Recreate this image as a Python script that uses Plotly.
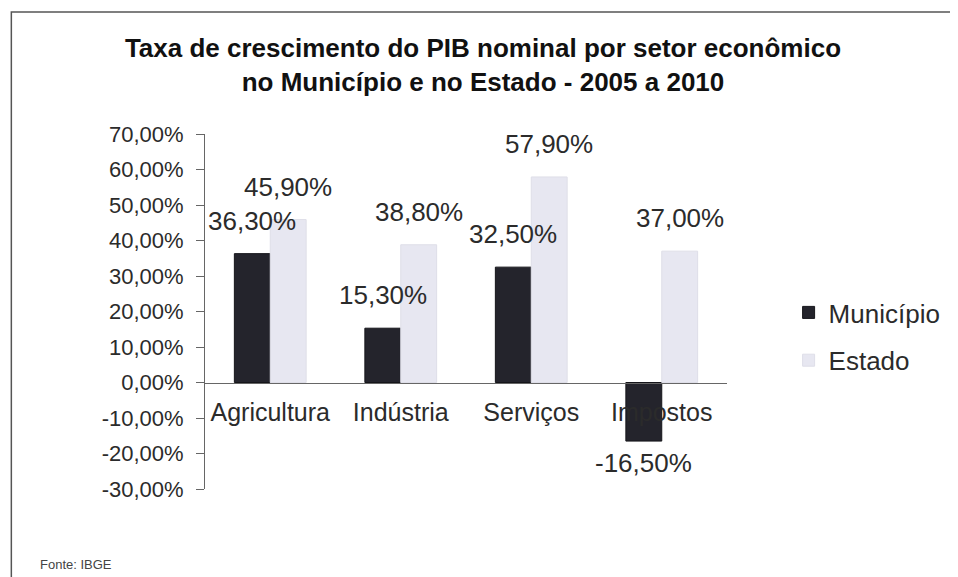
import plotly.graph_objects as go

setores = ['Agricultura', 'Indústria', 'Serviços', 'Impostos']
municipio = [36.30, 15.30, 32.50, -16.50]
estado = [45.90, 38.80, 57.90, 37.00]
y_ticks = [70, 60, 50, 40, 30, 20, 10, 0, -10, -20, -30]

y_range = [-30, 70]
font_family = 'Liberation Sans, Arial, sans-serif'
text_color = '#2b2b2b'


def pct(v):
    return '{:.2f}%'.format(v).replace('.', ',')


mun_bar = go.Bar(
    x=setores, y=municipio, name='Município',
    marker={'color': '#24242c', 'line': {'color': '#15151a', 'width': 1}},
    legendgroup='m'
)
est_bar = go.Bar(
    x=setores, y=estado, name='Estado',
    marker={'color': '#e7e7f1', 'line': {'color': '#dedee8', 'width': 1}},
    legendgroup='e'
)

# data labels sit a bit above (or below) each bar
labels = []
for serie, shift in ((municipio, -18), (estado, 18)):
    for cat, v in zip(setores, serie):
        labels.append({'x': cat, 'y': v, 'text': pct(v), 'showarrow': False,
                       'xshift': shift, 'yshift': 33 if v >= 0 else -22,
                       'xanchor': 'center', 'yanchor': 'middle',
                       'font': {'size': 26, 'color': text_color}})

labels.append({'text': 'Fonte: IBGE', 'xref': 'paper', 'yref': 'paper',
               'x': -0.32, 'y': -0.214, 'xanchor': 'left',
               'yanchor': 'middle', 'showarrow': False,
               'font': {'size': 13, 'color': '#444444'}})

# place the category axis on the zero line
zero_pos = (0 - y_range[0]) / (y_range[1] - y_range[0])

layout = go.Layout(
    width=950, height=569,
    font={'family': font_family, 'size': 22, 'color': text_color},
    title={'text': '<b>Taxa de crescimento do PIB nominal por setor econômico'
                   '<br>no Município e no Estado - 2005 a 2010</b>',
           'x': 0.5, 'xanchor': 'center', 'y': 0.914, 'yanchor': 'middle',
           'font': {'size': 26, 'color': '#111111'}},
    margin={'l': 197, 'r': 228, 't': 126, 'b': 88},
    plot_bgcolor='white', paper_bgcolor='white',
    barmode='group', bargap=0.45, bargroupgap=0,
    xaxis={'anchor': 'free', 'position': zero_pos, 'showline': True,
           'linecolor': '#666666', 'linewidth': 1, 'ticks': '',
           'ticklabelstandoff': 7,
           'tickfont': {'size': 25, 'color': text_color}, 'showgrid': False},
    yaxis={'range': y_range, 'tickvals': y_ticks,
           'ticktext': [pct(v) for v in y_ticks],
           'showline': True, 'linecolor': '#666666', 'linewidth': 1,
           'ticks': 'outside', 'ticklen': 8, 'tickcolor': '#666666',
           'ticklabelstandoff': 8,
           'showgrid': False, 'zeroline': False,
           'tickfont': {'size': 22, 'color': text_color}},
    legend={'x': 1.118, 'y': 0.4296, 'xanchor': 'left', 'yanchor': 'middle',
            'font': {'size': 26, 'color': text_color}, 'tracegroupgap': 11,
            'itemwidth': 30},
    showlegend=True,
    shapes=[{'type': 'rect', 'xref': 'paper', 'yref': 'paper',
             'x0': -0.371, 'x1': 1.5, 'y0': -0.3, 'y1': 1.344,
             'line': {'color': '#555555', 'width': 1.5}}],
    annotations=labels
)

fig = go.Figure(data=[mun_bar, est_bar], layout=layout)
fig.write_html('out.html')
